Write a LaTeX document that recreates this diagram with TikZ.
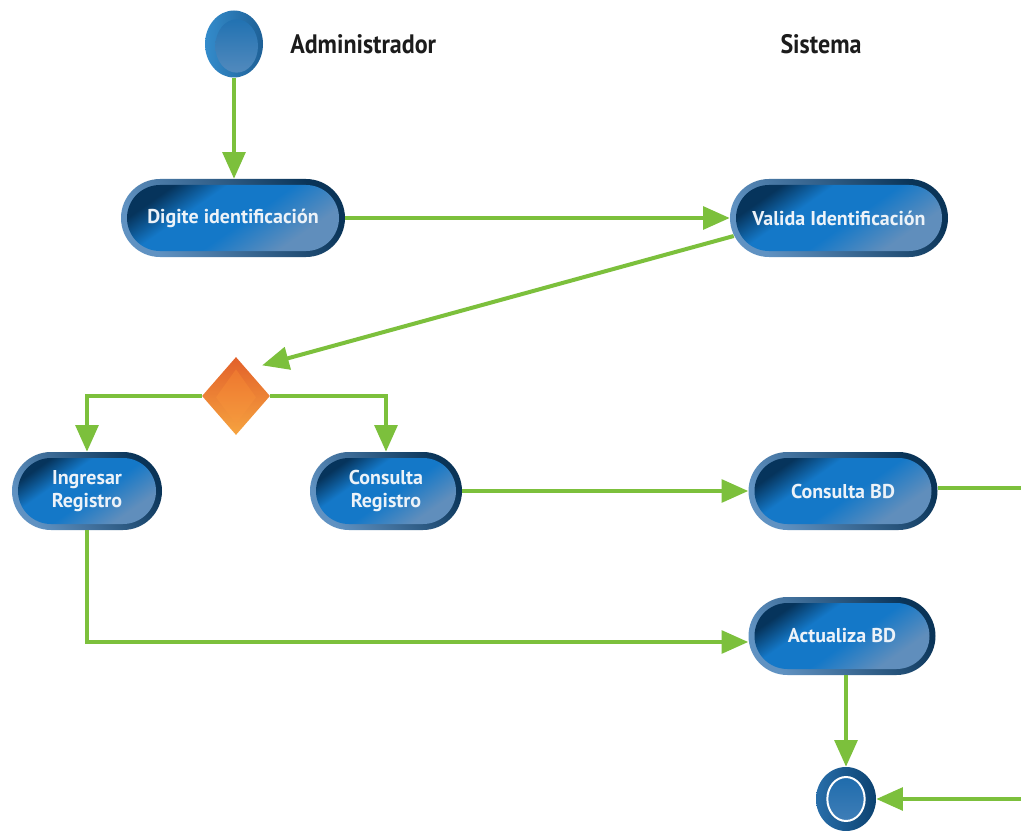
\documentclass[tikz,border=0pt]{standalone}
\usepackage{fontspec}
\setmainfont{PT Sans}
\newfontfamily\lanefont[FakeStretch=0.9]{PT Sans}
\usetikzlibrary{arrows.meta,shapes.geometric}

\definecolor{flowgreen}{RGB}{124,192,60}
\definecolor{ringlight}{RGB}{96,146,194}
\definecolor{ringdark}{RGB}{10,52,88}
\definecolor{bodyleft}{RGB}{6,52,92}
\definecolor{bodymid}{RGB}{20,120,200}
\definecolor{bodyright}{RGB}{96,142,188}
\definecolor{labelgray}{RGB}{28,28,28}
\definecolor{activitytext}{RGB}{236,242,248}
\definecolor{orangedark}{RGB}{226,96,42}
\definecolor{orangelight}{RGB}{246,164,64}
\definecolor{orangemid}{RGB}{236,112,44}
\definecolor{orangepale}{RGB}{246,160,64}
\definecolor{startleft}{RGB}{52,140,204}
\definecolor{startright}{RGB}{30,96,150}
\definecolor{starttop}{RGB}{26,110,176}
\definecolor{startbottom}{RGB}{86,140,190}
\definecolor{endleft}{RGB}{40,110,170}
\definecolor{endright}{RGB}{12,66,112}
\definecolor{endtop}{RGB}{24,104,170}
\definecolor{endbottom}{RGB}{70,130,186}

% body of an activity: dark left edge, bright centre, grey-blue right part
\pgfdeclarehorizontalshading{activitybody}{100bp}{%
  color(0bp)=(bodyleft); color(28bp)=(bodyleft); color(39bp)=(bodymid);
  color(53bp)=(bodymid); color(69bp)=(bodyright); color(100bp)=(bodyright)}

\tikzset{
  flow/.style={draw=flowgreen, line width=3pt, -{Triangle[length=20pt,width=17pt]}},
  actbox/.style={rectangle, rounded corners=29.25pt, minimum height=58.5pt,
    inner sep=0pt, align=center, text=activitytext,
    font=\bfseries\fontsize{15}{17}\selectfont,
    top color=ringdark, bottom color=ringlight, shading angle=-55,
    path picture={
      \shade[shading=activitybody, rounded corners=24.75pt]
        ([shift={(4.5pt,-4.5pt)}]path picture bounding box.north west) rectangle
        ([shift={(-4.5pt,4.5pt)}]path picture bounding box.south east);
    }},
  startnode/.style={ellipse, minimum width=43.5pt, minimum height=50.25pt, inner sep=0pt,
    left color=startleft, right color=startright,
    path picture={
      \shade[top color=starttop, bottom color=startbottom]
        ([shift={(2pt,-1.5pt)}]path picture bounding box.center) ellipse (16pt and 20pt);
    }},
  endnode/.style={ellipse, minimum width=45pt, minimum height=48pt, inner sep=0pt,
    left color=endleft, right color=endright,
    path picture={
      \shade[draw=white, line width=1.5pt, top color=endtop, bottom color=endbottom]
        (path picture bounding box.center) ellipse (14pt and 16.5pt);
    }},
  decision/.style={diamond, minimum width=51pt, minimum height=58.5pt, inner sep=0pt,
    aspect=0.87, top color=orangedark, bottom color=orangelight,
    path picture={
      \shade[top color=orangemid, bottom color=orangepale]
        ([yshift=20pt]path picture bounding box.center) --
        ([xshift=15pt,yshift=-1pt]path picture bounding box.center) --
        ([yshift=-21pt]path picture bounding box.center) --
        ([xshift=-15pt,yshift=-1pt]path picture bounding box.center) -- cycle;
    }},
  lanelabel/.style={text=labelgray, font=\lanefont\bfseries\fontsize{20}{24}\selectfont, inner sep=0pt}
}

\begin{document}
\begin{tikzpicture}[x=0.75pt,y=-0.75pt]
  \useasboundingbox (0,0) rectangle (1021,831);
  \clip (0,0) rectangle (1021,831);
  \fill[white] (0,0) rectangle (1021,831);

  % swimlane headings
  \node[lanelabel, anchor=west] (admin) at (290,44) {Administrador};
  \node[lanelabel] (sistema) at (821,44) {Sistema};

  % activities
  \node[startnode] (start) at (234,44) {};
  \node[actbox, minimum width=168pt] (digite) at (233,218) {Digite identificación};
  \node[actbox, minimum width=163.5pt] (valida) at (839,218) {Valida Identificación};
  \node[decision] (dia) at (236,396) {};
  \node[actbox, minimum width=112.5pt] (ingresar) at (87,491) {Ingresar\\Registro};
  \node[actbox, minimum width=114pt] (conreg) at (386,491) {Consulta\\Registro};
  \node[actbox, minimum width=141.75pt] (conbd) at (843,491) {Consulta BD};
  \node[actbox, minimum width=140.25pt] (actbd) at (842,636) {Actualiza BD};
  \node[endnode] (fin) at (846,799) {};
  \coordinate (rt) at (1050,488);

  % transitions
  \draw[flow] (start) -- (start |- digite.north);
  \draw[flow] (digite.east) -- (valida.west);
  \draw[flow] ([shift={(3pt,-13.5pt)}]valida.west) -- ([shift={(6.75pt,8.25pt)}]dia.north east);
  \draw[flow] (dia.west) -| (ingresar.north);
  \draw[flow] (dia.east) -| (conreg.north);
  \draw[flow] (conreg.east) -- (conbd.west);
  \draw[flow] (ingresar.south) |- ([yshift=-4.5pt]actbd.west);
  \draw[flow] (fin.north |- actbd.south) -- (fin.north);
  \draw[flow] (conbd.east |- rt) -- (rt) |- (fin.east);
\end{tikzpicture}
\end{document}
